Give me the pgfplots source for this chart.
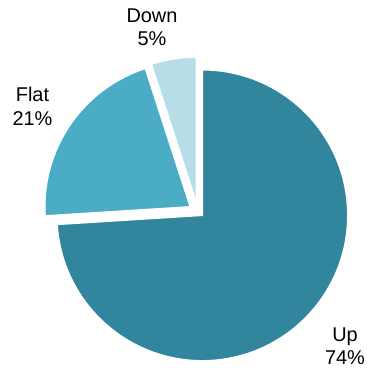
\documentclass[border=0pt]{standalone}
\usepackage{pgfplots}
\usepackage{pgfplotstable}
\pgfplotsset{compat=1.18}
\usepackage{fontspec}
\setmainfont{Liberation Sans}
\definecolor{c0}{HTML}{31859C}
\definecolor{c1}{HTML}{4BACC6}
\definecolor{c2}{HTML}{B7DEE8}
% slice values (percent) and explosion offsets (bp)
\pgfplotstableread{
label value dx dy
Up 74 0 0
Flat 21 -12 8.5
Down 5 -6 12.7
}\piedata
\def\pcx{202.3}\def\pcy{152.7}\def\pr{145.5}
\begin{document}
\begin{tikzpicture}
\pgfplotstablegetrowsof{\piedata}
\pgfmathtruncatemacro{\nrows}{\pgfplotsretval-1}
\gdef\cum{0}
\foreach \i in {0,...,\nrows}{
  \pgfplotstablegetelem{\i}{value}\of\piedata \let\v\pgfplotsretval
  \pgfplotstablegetelem{\i}{dx}\of\piedata \let\ddx\pgfplotsretval
  \pgfplotstablegetelem{\i}{dy}\of\piedata \let\ddy\pgfplotsretval
  \pgfmathsetmacro{\sa}{90-3.6*\cum}
  \pgfmathsetmacro{\sb}{90-3.6*(\cum+\v)}
  \pgfmathsetmacro{\sx}{\pcx+\ddx}
  \pgfmathsetmacro{\sy}{\pcy+\ddy}
  \expandafter\xdef\csname sa\i\endcsname{\sa}
  \expandafter\xdef\csname sb\i\endcsname{\sb}
  \expandafter\xdef\csname sx\i\endcsname{\sx}
  \expandafter\xdef\csname sy\i\endcsname{\sy}
  \pgfmathsetmacro{\c}{\cum+\v}\xdef\cum{\c}
}
\begin{axis}[x=1bp, y=1bp, xmin=0, xmax=367, ymin=0, ymax=368,
  hide axis, clip=false, scale only axis, anchor=origin, at={(0,0)}]
\pgfplotsinvokeforeach{0,1,2}{
  \fill[c#1, draw=white, line width=1.5bp]
    (axis cs:\csname sx#1\endcsname,\csname sy#1\endcsname)
    -- ++(\csname sa#1\endcsname:\pr bp)
    arc[start angle=\csname sa#1\endcsname, end angle=\csname sb#1\endcsname, radius=\pr bp]
    -- cycle;
}
\begin{scope}[every node/.style={align=center, inner sep=0pt, font=\fontsize{20}{23.5}\selectfont}]
\node at (axis cs:152,340.5) {Down\\5\%};
\node at (axis cs:32.5,261.5) {Flat\\21\%};
\node at (axis cs:345,22) {Up\\74\%};
\end{scope}
\end{axis}
\pgfresetboundingbox
\path[use as bounding box] (0,0) rectangle (367bp,368bp);
\end{tikzpicture}
\end{document}
